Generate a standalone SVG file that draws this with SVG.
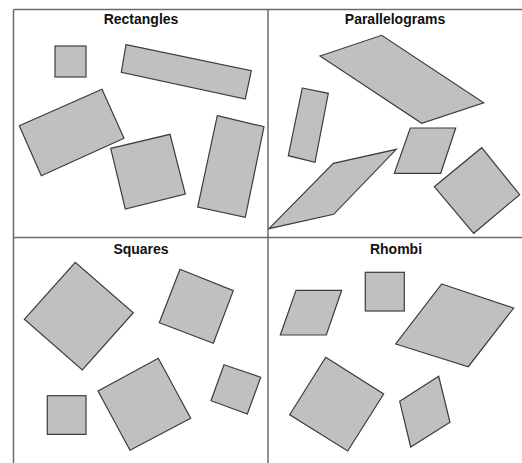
<svg xmlns="http://www.w3.org/2000/svg" width="522" height="463" viewBox="0 0 522 463">
<style>
.bg{fill:#ffffff}
.frame{stroke:#6b6b6b;stroke-width:1.5;fill:none}
.sh{fill:#c0c0c0;stroke:#3c3c3c;stroke-width:1.2;stroke-linejoin:miter}
.t{font-family:"Liberation Sans",Arial,sans-serif;font-weight:bold;font-size:14px;fill:#111111;text-anchor:middle}
</style>
<rect class="bg" x="0" y="0" width="522" height="463"/>
<g id="frame">
<line class="frame" x1="13.5" y1="9.5" x2="522" y2="9.5"/>
<line class="frame" x1="13.5" y1="9.5" x2="13.5" y2="463"/>
<line class="frame" x1="268" y1="9.5" x2="268" y2="463"/>
<line class="frame" x1="13.5" y1="237.5" x2="522" y2="237.5"/>
</g>
<g id="rectangles">
<text class="t" x="141" y="24">Rectangles</text>
<rect class="sh" x="55" y="46" width="31" height="31"/>
<polygon class="sh" points="126,44.7 251.3,70.7 245.3,99 121.3,72.3"/>
<polygon class="sh" points="19.3,125.7 102,89.3 124,138.3 41.3,175.7"/>
<polygon class="sh" points="110.7,148.3 170,134.3 185.3,194 125.3,209"/>
<polygon class="sh" points="217.3,115.7 264,126.7 245.3,217.3 197.7,207"/>
</g>
<g id="parallelograms">
<text class="t" x="395" y="24">Parallelograms</text>
<polygon class="sh" points="320,56 381.7,35.3 483.7,102.7 421.7,123.3"/>
<polygon class="sh" points="302.3,88 328.3,93.3 315,162.3 288.3,155.7"/>
<polygon class="sh" points="269,228.7 333.3,163.3 396.3,149.3 333.7,214.3"/>
<polygon class="sh" points="410.3,128 455.7,128 440.7,173.3 394.3,173.3"/>
<polygon class="sh" points="434.3,186.7 481.7,147.7 519.7,194.7 473.7,233.3"/>
</g>
<g id="squares">
<text class="t" x="141" y="254">Squares</text>
<polygon class="sh" points="24.3,319.3 75.3,262.3 133.3,312.7 82.3,370"/>
<polygon class="sh" points="180,269.3 233.3,290.7 213.3,343.3 159.3,322.7"/>
<rect class="sh" x="47.3" y="395.7" width="38.7" height="38.7"/>
<polygon class="sh" points="98,391 158.3,358.3 190.7,418.3 130,450.3"/>
<polygon class="sh" points="224,364.7 260.7,377.3 247.3,414 211,400.7"/>
</g>
<g id="rhombi">
<text class="t" x="396" y="254">Rhombi</text>
<polygon class="sh" points="296,290.3 341.7,290.3 326.3,335 280.3,335"/>
<rect class="sh" x="365.3" y="272.3" width="39" height="38.7"/>
<polygon class="sh" points="441.7,284 513.7,308 468.3,366.7 395.7,344"/>
<polygon class="sh" points="325.7,357.3 383.7,394 347.7,451 289.7,414.7"/>
<polygon class="sh" points="399.7,401.3 438.7,376.3 450,422.3 410.7,447"/>
</g>
</svg>
